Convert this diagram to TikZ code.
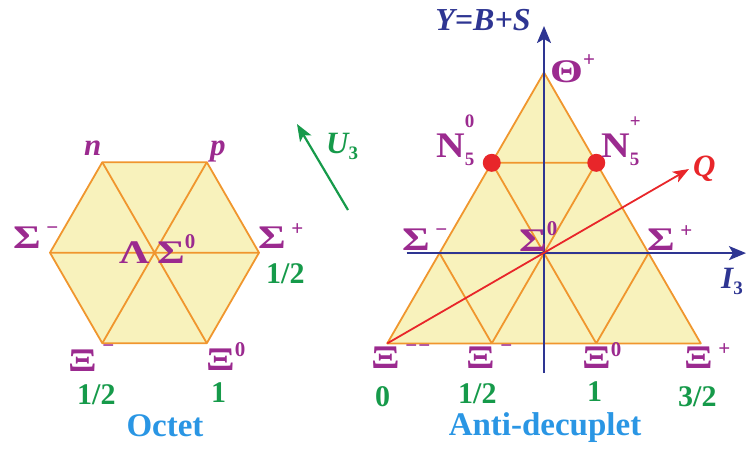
\documentclass[tikz,border=0pt]{standalone}
\usepackage{fontspec}
\setmainfont{Liberation Serif}
\usetikzlibrary{arrows.meta}
\definecolor{purp}{HTML}{9B2A8F}
\definecolor{grn}{HTML}{169A4A}
\definecolor{axblue}{HTML}{2E3592}
\definecolor{qred}{HTML}{E8262A}
\definecolor{orng}{HTML}{F0962E}
\definecolor{fillc}{HTML}{F8F2BC}
\definecolor{ttlblue}{HTML}{2A96E4}
\newcommand\gk[1]{\scalebox{1.28}[1]{#1}}
\newcommand\supx[2][13pt]{\raisebox{#1}{\fontsize{21}{21}\selectfont #2}}
\newcommand\subx[1]{\raisebox{-6pt}{\fontsize{19}{19}\selectfont #1}}
\begin{document}
\begin{tikzpicture}[x=1pt,y=-1pt,
  gridline/.style={draw=orng, line width=1.8pt, line join=round},
  axis/.style={draw=axblue, line width=2.2pt, -{Stealth[length=17pt,width=14pt,inset=4pt]}},
  lab/.style={text=purp, font=\fontsize{33}{33}\selectfont\bfseries, inner sep=0pt, anchor=base west},
  ilab/.style={text=purp, font=\fontsize{31}{31}\selectfont\bfseries\itshape, inner sep=0pt, anchor=base west},
  num/.style={text=grn, font=\fontsize{30}{30}\selectfont\bfseries, inner sep=0pt, anchor=base west},
  ttl/.style={text=ttlblue, font=\fontsize{33}{33}\selectfont\bfseries, inner sep=0pt, anchor=base},
  dotnode/.style={circle, fill=qred, draw=none, minimum size=18pt, inner sep=0pt}]
\useasboundingbox (0,0) rectangle (746,448);

% ---------- Octet ----------
\coordinate (on)  at (102.3,162.2);
\coordinate (op)  at (206.8,162.2);
\coordinate (oSp) at (259.0,252.7);
\coordinate (oX0) at (206.8,343.2);
\coordinate (oXm) at (102.3,343.2);
\coordinate (oSm) at (50.0,252.7);
\fill[fillc] (on)--(op)--(oSp)--(oX0)--(oXm)--(oSm)--cycle;
\draw[gridline] (on)--(op)--(oSp)--(oX0)--(oXm)--(oSm)--cycle;
\draw[gridline] (on)--(oX0) (op)--(oXm) (oSm)--(oSp);

\node[ilab] (ln) at (84,155) {n};
\node[ilab] (lp) at (210,155) {p};
\node[lab] (lSm) at (13,248) {\gk{Σ}\,\supx[14pt]{−}};
\node[lab] (lSp) at (258,248) {\gk{Σ}\,\supx{+}};
\node[lab] (lL) at (119,263) {\gk{Λ}};
\node[lab] (lS0) at (157,263) {\gk{Σ}\supx[15pt]{0}};
\node[lab] (lXm) at (68,371) {\gk{Ξ}\,\supx[19pt]{−}};
\node[lab] (lX0) at (206,370) {\gk{Ξ}\supx[14pt]{0}};
\node[num] (n1) at (266,283) {1/2};
\node[num] (n2) at (77,404) {1/2};
\node[num] (n3) at (211,402) {1};
\node[ttl] (tOct) at (165,436) {Octet};

% ---------- U3 ----------
\coordinate (ut) at (348,210);
\coordinate (uh) at (297,124);
\draw[draw=grn, line width=2.2pt, -{Stealth[length=17pt,width=13pt,inset=4pt]}] (ut)--(uh);
\node[text=grn, font=\fontsize{31}{31}\selectfont\bfseries\itshape, inner sep=0pt, anchor=base west] (lU) at (326,153) {U\subx{\upshape 3}};

% ---------- Anti-decuplet ----------
\coordinate (aT)   at (544.0,72.5);
\coordinate (aN0)  at (491.75,162.8);
\coordinate (aNp)  at (596.25,162.8);
\coordinate (aSm)  at (439.5,253.1);
\coordinate (aS0)  at (544.0,253.1);
\coordinate (aSp)  at (648.5,253.1);
\coordinate (aXmm) at (387.25,343.4);
\coordinate (aXm)  at (491.75,343.4);
\coordinate (aX0)  at (596.25,343.4);
\coordinate (aXp)  at (700.75,343.4);
\fill[fillc] (aT)--(aXp)--(aXmm)--cycle;
\draw[gridline] (aT)--(aXp)--(aXmm)--cycle;
\draw[gridline] (aN0)--(aNp) (aSm)--(aSp)
  (aXm)--(aNp) (aX0)--(aSp) (aX0)--(aN0) (aXm)--(aSm);

\coordinate (ybot) at (544,373);
\coordinate (ytop) at (544,26);
\coordinate (xl) at (406.7,253.1);
\coordinate (xr) at (746,253.1);
\draw[axis] (ybot)--(ytop);
\draw[axis] (xl)--(xr);

\coordinate (qtip) at (689,169.0);
\draw[draw=qred, line width=1.8pt, -{Stealth[length=16pt,width=12pt,inset=4pt]}] (aXmm)--(qtip);

\node[dotnode] (dN0) at (aN0) {};
\node[dotnode] (dNp) at (aNp) {};

\node[text=axblue, font=\fontsize{32}{32}\selectfont\bfseries\itshape, inner sep=0pt, anchor=base] (lY) at (483,30) {Y=B+S};
\node[text=axblue, font=\fontsize{31}{31}\selectfont\bfseries\itshape, inner sep=0pt, anchor=base west] (lI) at (721,288) {I\subx{\upshape 3}};
\node[text=qred, font=\fontsize{31}{31}\selectfont\bfseries\itshape, inner sep=0pt, anchor=base west] (lQ) at (693,176) {Q};

\node[lab] (aTh) at (550,82) {\gk{Θ}\supx[16pt]{+}};
\node[lab, font=\fontsize{36}{36}\selectfont\bfseries] (aLN0) at (436,157) {\scalebox{1.1}[1]{N}\makebox[0pt][l]{\raisebox{30pt}{\fontsize{19}{19}\selectfont 0}}\raisebox{-8pt}{\fontsize{19}{19}\selectfont 5}};
\node[lab, font=\fontsize{36}{36}\selectfont\bfseries] (aLNp) at (601,157) {\scalebox{1.1}[1]{N}\makebox[0pt][l]{\raisebox{30pt}{\fontsize{19}{19}\selectfont +}}\raisebox{-8pt}{\fontsize{19}{19}\selectfont 5}};
\node[lab] (aLSm) at (402,250) {\gk{Σ}\,\supx[14pt]{−}};
\node[lab] (aLS0) at (519,251) {\gk{Σ}\supx[16pt]{0}};
\node[lab] (aLSp) at (647,250) {\gk{Σ}\,\supx{+}};
\node[lab] (aLXmm) at (371,368) {\gk{Ξ}\,\supx[16pt]{−\kern1pt−}};
\node[lab] (aLXm) at (466,368) {\gk{Ξ}\,\supx[16pt]{−}};
\node[lab] (aLX0) at (582,368) {\gk{Ξ}\supx[12pt]{0}};
\node[lab] (aLXp) at (684,368) {\gk{Ξ}\,\supx[13pt]{+}};

\node[num] (m0) at (375,406) {0};
\node[num] (m1) at (458,403) {1/2};
\node[num] (m2) at (587,401) {1};
\node[num] (m3) at (678,406) {3/2};
\node[ttl] (tAnti) at (545,435) {Anti-decuplet};
\end{tikzpicture}
\end{document}
